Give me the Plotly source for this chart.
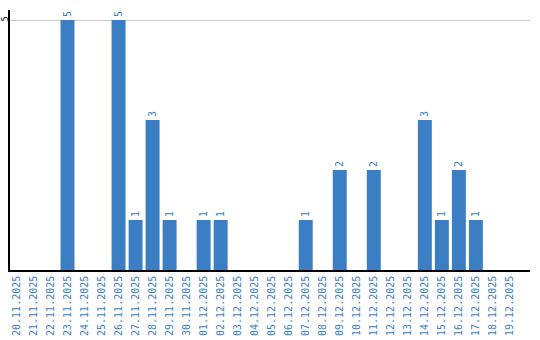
import plotly.graph_objects as go

dates = ["20.11.2025", "21.11.2025", "22.11.2025", "23.11.2025", "24.11.2025", "25.11.2025",
         "26.11.2025", "27.11.2025", "28.11.2025", "29.11.2025", "30.11.2025", "01.12.2025",
         "02.12.2025", "03.12.2025", "04.12.2025", "05.12.2025", "06.12.2025", "07.12.2025",
         "08.12.2025", "09.12.2025", "10.12.2025", "11.12.2025", "12.12.2025", "13.12.2025",
         "14.12.2025", "15.12.2025", "16.12.2025", "17.12.2025", "18.12.2025", "19.12.2025"]
counts = [0, 0, 0, 5, 0, 0, 5, 1, 3, 1, 0, 1, 1, 0, 0, 0, 0, 1, 0, 2, 0, 2, 0, 0, 3, 1, 2, 1, 0, 0]
y_ticks = [5]
y_tick_text = ["5"]

blue = "#3b7ec4"
labels = [str(v) if v else "" for v in counts]

fig = go.Figure(go.Bar(
    x=dates, y=counts, text=labels, textposition="outside", textangle=-90,
    textfont=dict(color=blue, size=10, family="DejaVu Sans Mono"),
    marker=dict(color=blue, line=dict(width=0)), cliponaxis=False,
))
fig.update_layout(
    width=540, height=340, margin=dict(l=10, r=10, t=10, b=70),
    plot_bgcolor="white", paper_bgcolor="white", bargap=0.18, showlegend=False,
    uniformtext=dict(minsize=1, mode="show"),
)
fig.update_xaxes(type="category", range=[-0.38, 30.18], tickangle=-90, automargin=False,
                 tickfont=dict(color=blue, size=10, family="DejaVu Sans Mono"),
                 showline=True, linecolor="black", linewidth=1.5, ticks="", showgrid=False)
fig.update_yaxes(range=[0, 5.2], tickvals=y_ticks, ticktext=y_tick_text, tickangle=-90,
                 automargin=False, ticklabelstandoff=-3,
                 tickfont=dict(color="black", size=8, family="DejaVu Sans Mono"),
                 showline=True, linecolor="black", linewidth=1.5, ticks="",
                 showgrid=True, gridcolor="#cccccc", gridwidth=1, zeroline=False)
fig.write_html("out.html")
